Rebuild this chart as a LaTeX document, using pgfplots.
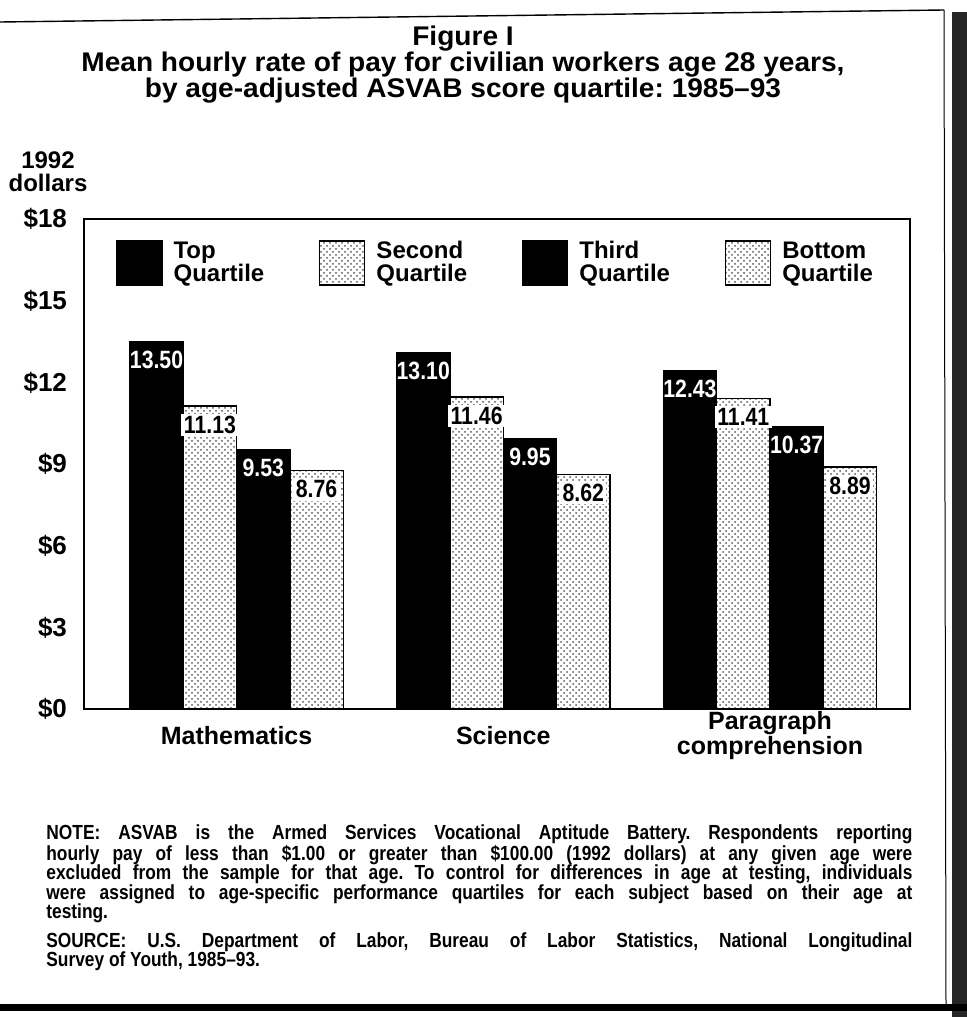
\documentclass[border=0pt]{standalone}
\usepackage{fontspec}
\setmainfont{Liberation Sans}
\newfontfamily\condfont[FakeStretch=0.85]{Liberation Sans}
\newfontfamily\widefont[FakeStretch=1.04]{Liberation Sans}
\usepackage{pgfplots}
\pgfplotsset{compat=1.18}
\usetikzlibrary{patterns}
\pgfplotsset{
  sq legend/.style={legend image code/.code={\draw[##1,draw=black,line width=0.6pt] (0pt,-11pt) rectangle (22.5pt,11pt);}},
}
\frenchspacing
\newcommand\tightlines{\lineskiplimit=-6pt\relax\lineskip=0pt\relax}
\begin{document}
\begin{tikzpicture}
\path[use as bounding box] (0,0) rectangle (483.5pt,-508.5pt);
% page frame
\draw[line width=0.7pt] (0,-11pt) -- (472pt,-5pt);
\draw[line width=0.5pt] (472pt,-5pt) -- (473pt,-503pt);
\fill[black!85] (476pt,-6pt) rectangle (483.5pt,-508.5pt);
\fill[black] (0,-502pt) rectangle (483.5pt,-505.5pt);
% title
\tikzset{ttl/.style={anchor=base, inner sep=0pt, font=\widefont\bfseries\fontsize{13.5}{13.5}\selectfont}}
\node[ttl] at (231.5pt,-23pt) {Figure I};
\node[ttl] at (231.5pt,-35.5pt) {Mean hourly rate of pay for civilian workers age 28 years,};
\node[ttl] at (231.5pt,-48.5pt) {by age-adjusted ASVAB score quartile: 1985–93};
% y label
\node[anchor=base, font=\bfseries\fontsize{12}{12}\selectfont] at (24pt,-84pt) {1992};
\node[anchor=base, font=\bfseries\fontsize{12}{12}\selectfont] at (24pt,-95.5pt) {dollars};
\begin{axis}[
  at={(42pt,-354.5pt)}, anchor=south west,
  scale only axis, width=413pt, height=245pt,
  ymin=0, ymax=18, xmin=-0.572, xmax=2.525,
  ybar=0pt, bar width=0.2,
  axis line style={line width=0.8pt},
  ytick={0,3,...,18},
  yticklabels={\$0,\$3,\$6,\$9,\$12,\$15,\$18},
  xtick={0,1,2},
  xticklabels={Mathematics,Science,{Paragraph\\comprehension}},
  major tick length=0pt,
  yticklabel style={font=\bfseries\fontsize{13}{13}\selectfont, xshift=-5pt},
  xticklabel style={font=\bfseries\fontsize{12.5}{12.5}\selectfont, align=center, anchor=center, yshift=-13.5pt},
  /pgf/number format/assume math mode=true,
  nodes near coords={\pgfmathprintnumber[fixed,fixed zerofill,precision=2]{\pgfplotspointmeta}},
  nodes near coords align={below},
  every node near coord/.append style={font=\condfont\bfseries\fontsize{12.5}{12.5}\selectfont, inner sep=1.2pt, yshift=-3.5pt},
  legend columns=4,
  legend cell align=left,
  legend style={at={(0,1)}, anchor=north west, xshift=16pt, yshift=-10.5pt,
    draw=none, fill=none, inner sep=0pt, row sep=0pt,
    nodes={inner sep=0pt, align=left, font=\bfseries\fontsize{12}{11.5}\selectfont},
    /tikz/every odd column/.append style={column sep=5.5pt},
    /tikz/every even column/.append style={column sep=27.5pt}},
]
\addplot[fill=black, draw=black, sq legend,
  every node near coord/.append style={text=white}]
  coordinates {(0,13.50) (1,13.10) (2,12.43)};
\addlegendentry{Top\\Quartile}
\addplot[fill=white, draw=black, line width=0.6pt,
  postaction={pattern=crosshatch dots, pattern color=black!65}, sq legend,
  every node near coord/.append style={text=black, fill=white}]
  coordinates {(0,11.13) (1,11.46) (2,11.41)};
\addlegendentry{Second\\Quartile}
\addplot[fill=black, draw=black, sq legend,
  every node near coord/.append style={text=white}]
  coordinates {(0,9.53) (1,9.95) (2,10.37)};
\addlegendentry{Third\\Quartile}
\addplot[fill=white, draw=black, line width=0.6pt,
  postaction={pattern=crosshatch dots, pattern color=black!65}, sq legend,
  every node near coord/.append style={text=black, fill=white}]
  coordinates {(0,8.76) (1,8.62) (2,8.89)};
\addlegendentry{Bottom\\Quartile}
\end{axis}
% notes
\node[anchor=north west, inner sep=0pt, text width=433pt, align=justify,
  font=\condfont\bfseries\fontsize{10.2}{9.65}\selectfont] at (23pt,-412pt)
  {\tightlines NOTE: ASVAB is the Armed Services Vocational Aptitude Battery. Respondents reporting\linebreak
   hourly pay of less than \$1.00 or greater than \$100.00 (1992 dollars) at any given age were\linebreak
   excluded from the sample for that age. To control for differences in age at testing, individuals\linebreak
   were assigned to age-specific performance quartiles for each subject based on their age at\linebreak
   testing.};
\node[anchor=north west, inner sep=0pt, text width=433pt, align=justify,
  font=\condfont\bfseries\fontsize{10.2}{9.65}\selectfont] at (23pt,-466pt)
  {\tightlines SOURCE: U.S. Department of Labor, Bureau of Labor Statistics, National Longitudinal\linebreak
   Survey of Youth, 1985–93.};
\end{tikzpicture}
\end{document}
